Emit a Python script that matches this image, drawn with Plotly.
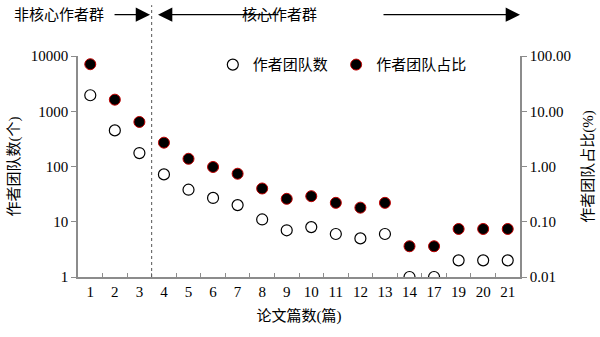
import plotly.graph_objects as go

categories = ["1", "2", "3", "4", "5", "6", "7", "8", "9", "10", "11", "12", "13", "14", "17", "19", "20", "21"]
team_counts = [1950, 450, 175, 72, 38, 27, 20, 11, 7, 8, 6, 5, 6, 1, 1, 2, 2, 2]
team_share = [71.0, 16.2, 6.4, 2.7, 1.38, 0.98, 0.74, 0.40, 0.26, 0.29, 0.22, 0.18, 0.22, 0.036, 0.036, 0.074, 0.074, 0.074]
left_ticks = [1, 10, 100, 1000, 10000]
right_ticks = [0.01, 0.1, 1, 10, 100]
right_ticktext = ["0.01", "0.10", "1.00", "10.00", "100.00"]

FONT = "Liberation Serif, 'Noto Sans CJK SC', serif"
AX = "#8c8c8c"

fig = go.Figure()
fig.add_trace(go.Scatter(
    x=categories, y=team_counts, mode="markers", name="作者团队数",
    marker=dict(symbol="circle", size=11, color="white", line=dict(color="black", width=1.2)),
    yaxis="y", legend="legend",
))
fig.add_trace(go.Scatter(
    x=categories, y=team_share, mode="markers", name="作者团队占比",
    marker=dict(symbol="circle", size=11, color="black", line=dict(color="#c00000", width=1)),
    yaxis="y2", legend="legend2",
))

leg_common = dict(orientation="h", y=0.96, xanchor="left", yanchor="middle",
                  font=dict(size=15), bgcolor="rgba(0,0,0,0)", itemwidth=30)

fig.update_layout(
    width=600, height=337,
    margin=dict(l=78, r=80, t=56, b=60),
    paper_bgcolor="white", plot_bgcolor="white",
    font=dict(family=FONT, size=15, color="black"),
    showlegend=True,
    legend=dict(x=0.305, **leg_common),
    legend2=dict(x=0.584, **leg_common),
    xaxis=dict(type="category", range=[-0.5, 17.5], showline=True, linecolor=AX, linewidth=1.5,
               ticks="inside", tickson="boundaries", ticklen=4, tickcolor=AX,
               showgrid=False, zeroline=False, automargin=False, tickangle=0,
               title=dict(text="论文篇数(篇)", standoff=12, font=dict(size=15)),
               tickfont=dict(size=15)),
    yaxis=dict(type="log", range=[0, 4], tickvals=left_ticks, ticktext=[str(v) for v in left_ticks],
               showline=True, linecolor=AX, linewidth=1.5, ticks="outside", ticklen=5, tickcolor=AX,
               showgrid=False, zeroline=False, automargin=False,
               title=dict(text="作者团队数(个)", standoff=8, font=dict(size=15)),
               tickfont=dict(size=15)),
    yaxis2=dict(type="log", range=[-2, 2], tickvals=right_ticks, ticktext=right_ticktext,
                overlaying="y", side="right",
                showline=True, linecolor=AX, linewidth=1.5, ticks="outside", ticklen=5, tickcolor=AX,
                showgrid=False, zeroline=False, automargin=False,
                title=dict(text="作者团队占比(%)", standoff=12, font=dict(size=15)),
                tickfont=dict(size=15)),
)

# dotted divider between 3 and 4
fig.add_shape(type="line", xref="x", yref="paper", x0=2.5, x1=2.5, y0=0, y1=1.23,
              line=dict(color="#555555", width=1, dash="dot"))

ytop = 1.187
fig.add_annotation(xref="paper", yref="paper", x=-0.043, y=ytop, text="非核心作者群",
                   showarrow=False, xanchor="center", yanchor="middle", font=dict(size=15))
fig.add_annotation(xref="paper", yref="paper", x=0.455, y=ytop, text="核心作者群",
                   showarrow=False, xanchor="center", yanchor="middle", font=dict(size=15))
arrows = [(0.163, 37), (0.181, -122), (1.0, 138)]
for xh, dx in arrows:
    fig.add_annotation(xref="paper", yref="paper", x=xh, y=ytop, ax=-dx, ay=0,
                       axref="pixel", ayref="pixel", text="", showarrow=True,
                       arrowhead=2, arrowsize=2.6, arrowwidth=1.1, arrowcolor="black", standoff=0)

fig.write_html("out.html", post_script="document.body.style.margin='0';",
               config={"displayModeBar": False})
